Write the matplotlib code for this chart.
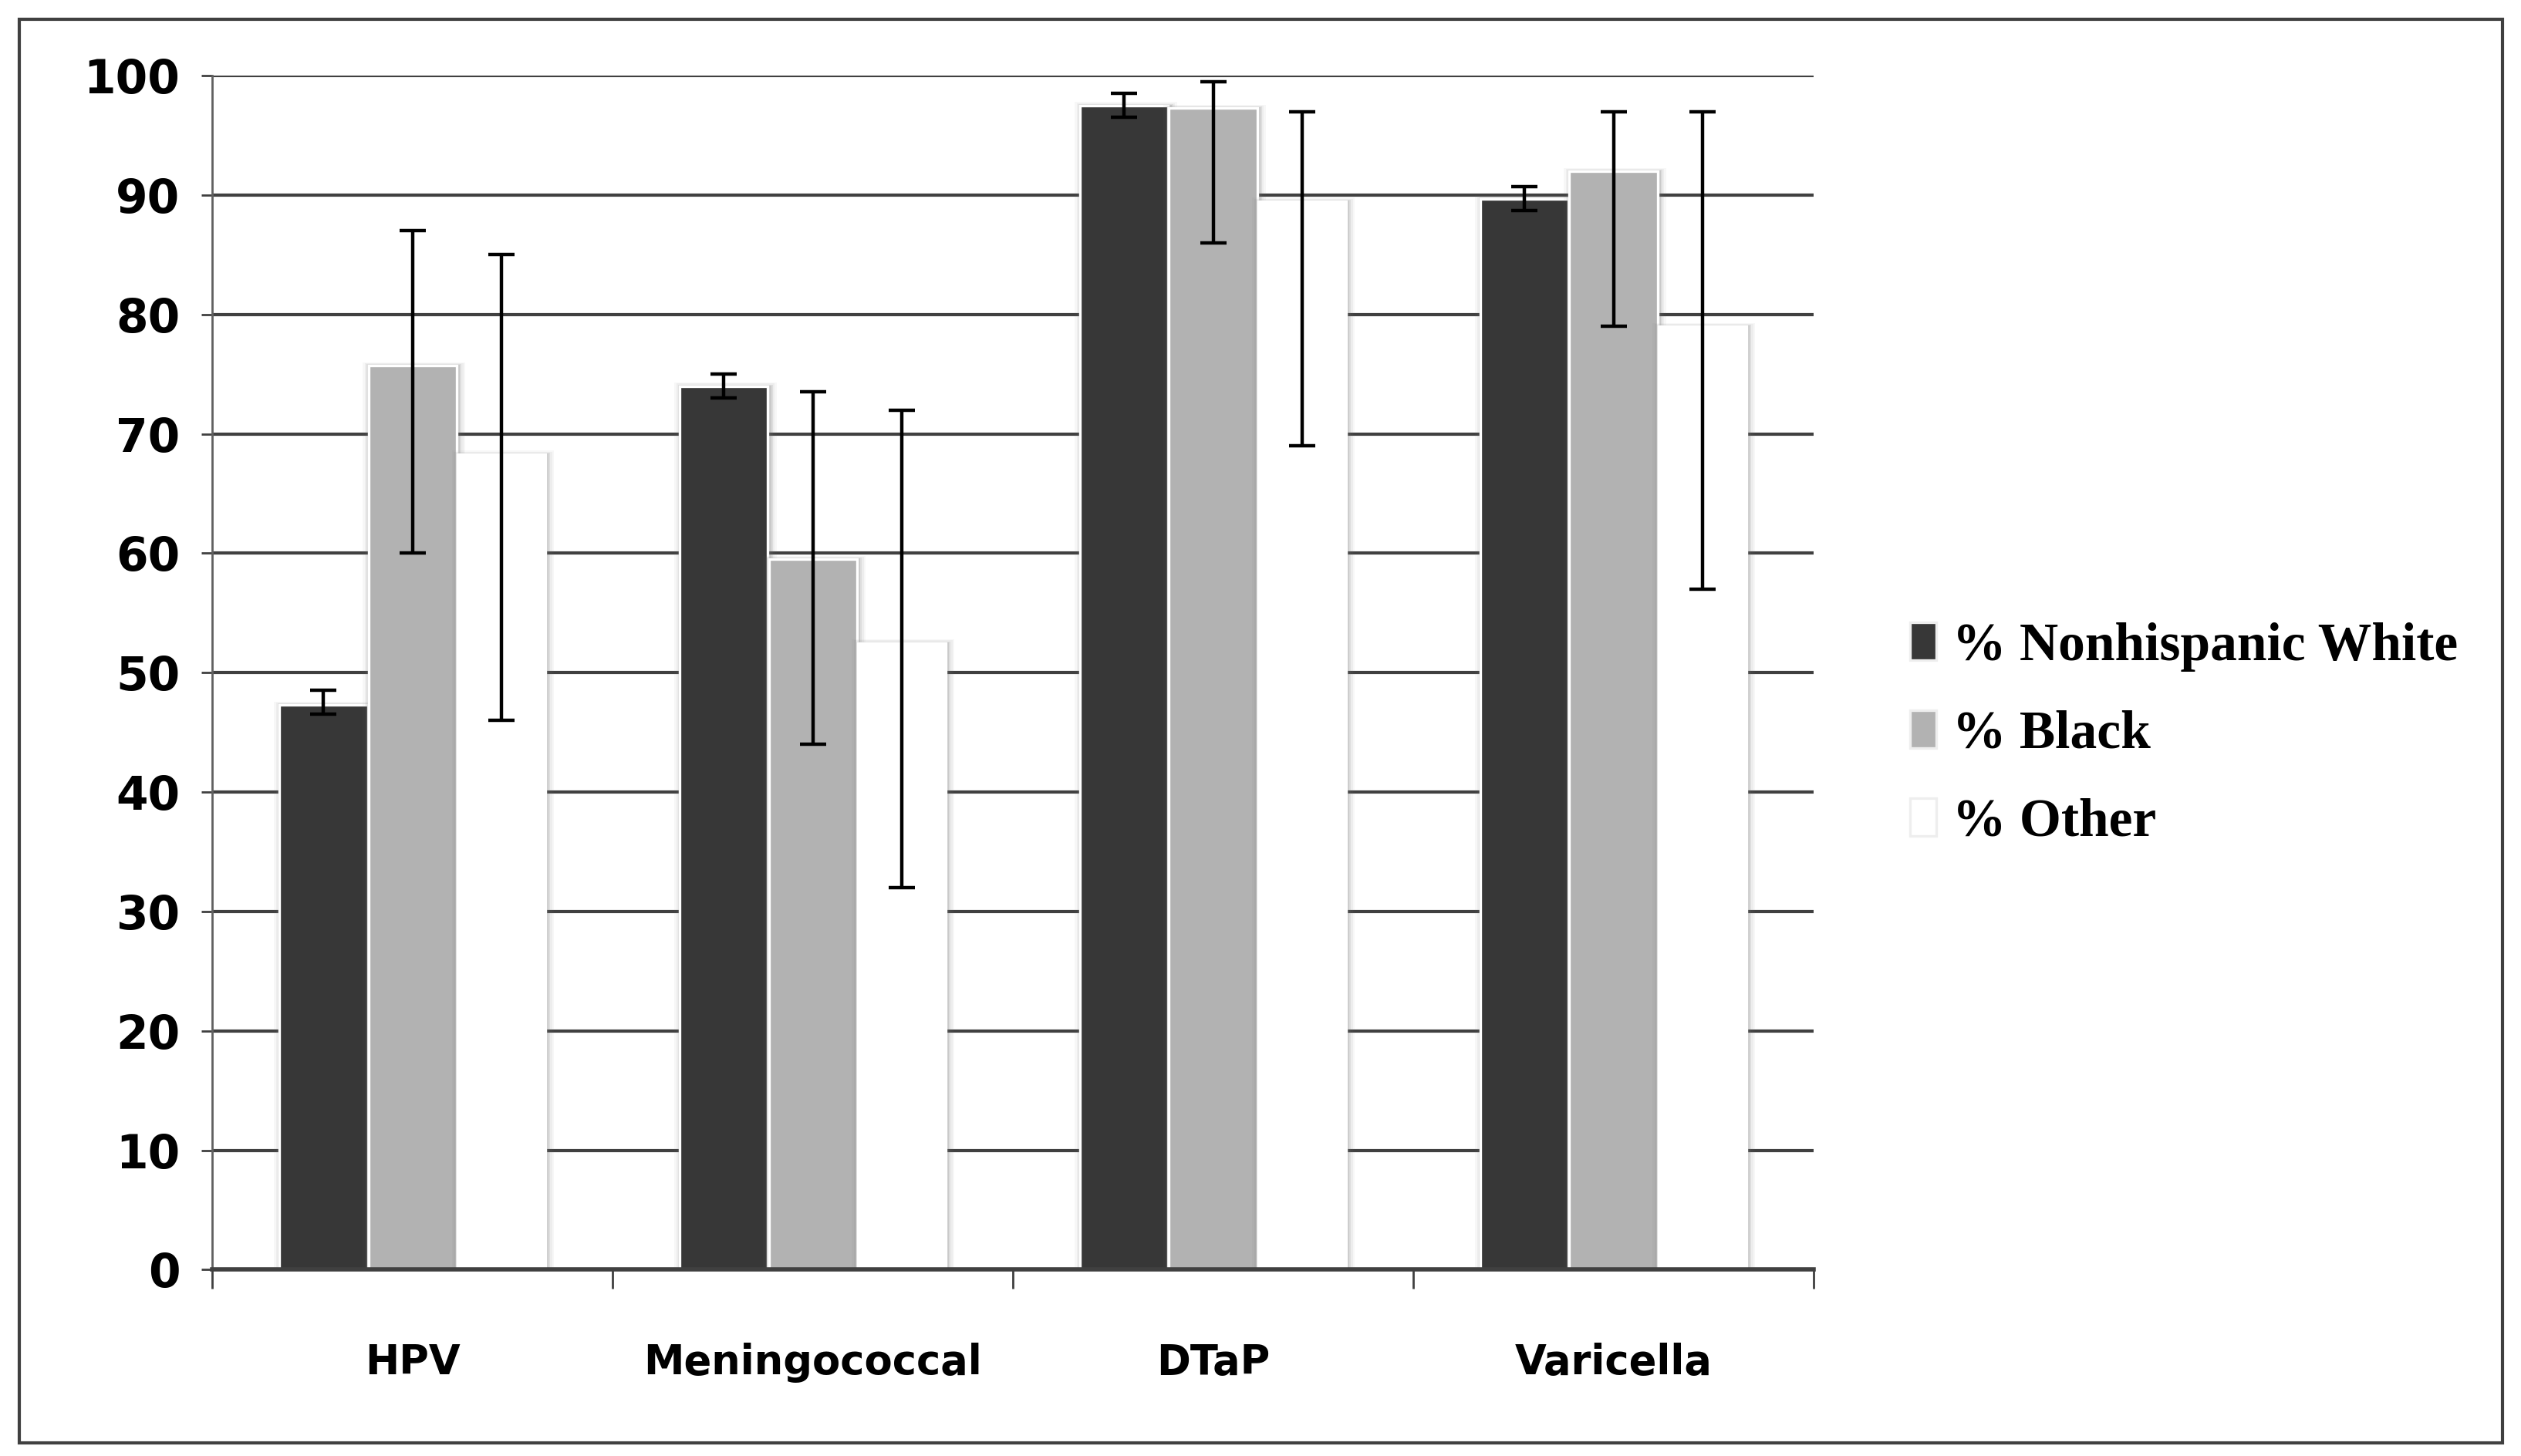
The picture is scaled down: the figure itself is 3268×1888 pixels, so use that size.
import matplotlib
matplotlib.use('Agg')
import matplotlib.pyplot as plt
from matplotlib.patches import Rectangle
import numpy as np

categories = ['HPV', 'Meningococcal', 'DTaP', 'Varicella']
series = ['% Nonhispanic White', '% Black', '% Other']
white = [47.3, 74.0, 97.5, 89.7]
white_lo = [46.5, 73.0, 96.5, 88.7]
white_hi = [48.5, 75.0, 98.5, 90.7]
black = [75.7, 59.5, 97.3, 92.0]
black_lo = [60.0, 44.0, 86.0, 79.0]
black_hi = [87.0, 73.5, 99.5, 97.0]
other = [68.3, 52.5, 89.5, 79.0]
other_lo = [46.0, 32.0, 69.0, 57.0]
other_hi = [85.0, 72.0, 97.0, 97.0]
yticks = [0, 10, 20, 30, 40, 50, 60, 70, 80, 90, 100]

colors = ['#373737', '#b2b2b2', '#ffffff']
label_font = ['Liberation Sans Narrow', 'DejaVu Sans']
legend_font = ['Liberation Serif', 'DejaVu Serif']

fig = plt.figure(figsize=(16.34, 9.44), dpi=200)
ax = fig.add_axes([0.0842, 0.128, 0.6352, 0.820])

x = np.arange(len(categories))
w = 0.22
offs = [-0.222, 0.0, 0.222]
vals = [white, black, other]
los = [white_lo, black_lo, other_lo]
his = [white_hi, black_hi, other_hi]

for i in range(3):
    xs = x + offs[i]
    z = 2 + i * 0.1
    # soft shadow around each bar, a bit heavier on the right
    for extra, a in [(0.036, 0.05), (0.026, 0.07), (0.016, 0.12), (0.008, 0.18)]:
        ax.bar(xs + 0.004, np.array(vals[i]) + extra * 8, w + extra, color='#707070',
               alpha=a, linewidth=0, zorder=z)
    ax.bar(xs, vals[i], w, color=colors[i], edgecolor='white', linewidth=1.2,
           zorder=z + 0.05, label=series[i])
    mid = np.array(vals[i])
    yerr = [mid - np.array(los[i]), np.array(his[i]) - mid]
    ax.errorbar(xs, mid, yerr=yerr, fmt='none', ecolor='black', elinewidth=1.6,
                capsize=6, capthick=1.6, zorder=5)

ax.set_xlim(-0.5, len(categories) - 0.5)
ax.set_ylim(0, 100)
ax.set_yticks(yticks)
ax.set_yticklabels([str(t) for t in yticks], fontfamily=label_font,
                   fontweight='bold', fontsize=21.5)
ax.yaxis.grid(True, color='#404040', linewidth=1.5)
ax.set_axisbelow(True)

ax.set_xticks(np.arange(-0.5, len(categories), 1.0))
ax.set_xticklabels([])
ax.set_xticks(x, minor=True)
ax.set_xticklabels(categories, minor=True, fontfamily=label_font,
                   fontweight='bold', fontsize=19)
ax.tick_params(axis='x', which='major', length=9, width=1.0, color='#404040')
ax.tick_params(axis='x', which='minor', length=0, pad=34)
ax.tick_params(axis='y', length=5, width=1.0, color='#404040', pad=10)

for s in ['top', 'right']:
    ax.spines[s].set_visible(False)
ax.spines['left'].set_color('#606060')
ax.spines['left'].set_linewidth(1.0)
ax.spines['bottom'].set_color('#404040')
ax.spines['bottom'].set_linewidth(2.0)
ax.spines['bottom'].set_zorder(6)

leg = ax.legend(loc='center left', bbox_to_anchor=(1.03, 0.448), frameon=False,
                prop={'family': legend_font, 'weight': 'bold', 'size': 25},
                handlelength=0.5, handleheight=0.7, handletextpad=0.3,
                labelspacing=0.72)
for h in leg.legend_handles:
    h.set_edgecolor('#eeeeee')

fig.patches.append(Rectangle((0.0077, 0.0088), 0.985, 0.978, transform=fig.transFigure,
                             fill=False, edgecolor='#404040', linewidth=1.5))

fig.savefig('out.png', dpi=200)
